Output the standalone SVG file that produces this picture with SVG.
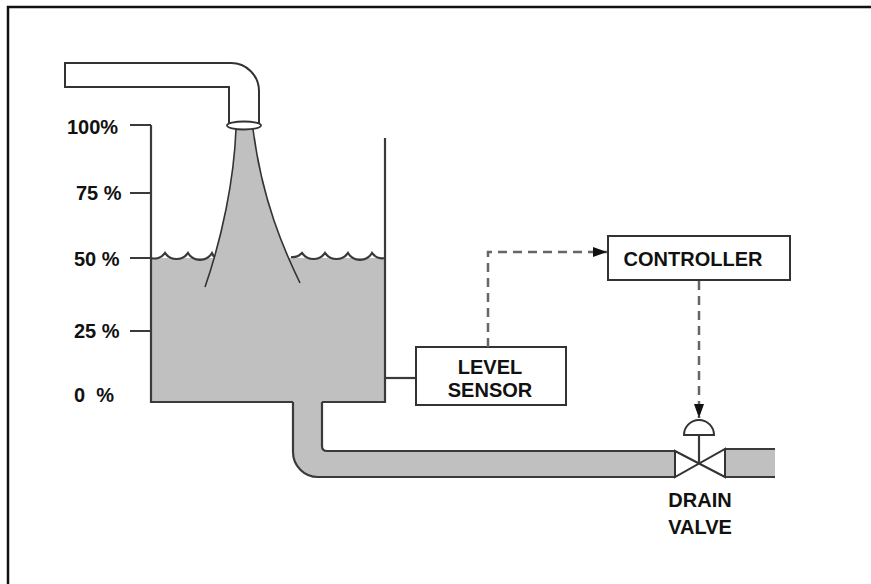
<svg xmlns="http://www.w3.org/2000/svg" width="871" height="584" viewBox="0 0 871 584">
  <style>
    .lbl { font-family: "Liberation Sans", Arial, sans-serif; font-weight: bold; font-size: 20px; fill: #111; }
    .mid { text-anchor: middle; }
    .wall { fill: none; stroke: #3a3a3a; stroke-width: 2.2; }
    .thin { fill: none; stroke: #333; stroke-width: 1.6; }
    .water { fill: #c0c0c0; }
    .box { fill: #fff; stroke: #333; stroke-width: 2; }
    .sig { fill: none; stroke: #666; stroke-width: 2.5; stroke-dasharray: 9 6; }
  </style>
  <defs>
    <marker id="arrow" viewBox="0 0 14 10" refX="14" refY="5" markerWidth="14" markerHeight="10" markerUnits="userSpaceOnUse" orient="auto">
      <path d="M0,0 L14,5 L0,10 Z" fill="#111"/>
    </marker>
  </defs>

  <rect width="871" height="584" fill="#fff"/>

  <!-- frame (top and left edges) -->
  <path d="M8,584 L8,7 L871,7" fill="none" stroke="#111" stroke-width="2.5"/>

  <!-- tank with water -->
  <g id="tank">
    <rect x="151" y="258" width="234" height="144" class="water"/>
    <path d="M151,125 L151,402 L293,402 M322,402 L385,402 L385,138" class="wall"/>
    <!-- water surface -->
    <path d="M151,258 A13,13 0 0 0 165,253 A14,14 0 0 0 188,253 A14,14 0 0 0 212,253 L214,257" class="wall"/>
    <path d="M291,257 A13,13 0 0 0 302,253 A14,14 0 0 0 325,253 A14,14 0 0 0 348,253 A14,14 0 0 0 372,253 A13,13 0 0 0 385,258" class="wall"/>
  </g>

  <!-- inlet pipe, nozzle and falling stream -->
  <g id="inlet">
    <path d="M65,63 L231,63 A28,28 0 0 1 259,91 L259,123 L229,123 L229,87 L65,87 Z" fill="#fff" stroke="#333" stroke-width="2"/>
    <path d="M236,129 C234,180 222,238 205,287 L300,283 C284,250 262,200 253,129 Z" class="water"/>
    <path d="M236,129 C234,180 222,238 205,287" class="thin"/>
    <path d="M253,129 C262,200 284,250 300,283" class="thin"/>
    <ellipse cx="244" cy="125.5" rx="17" ry="4" fill="#fff" stroke="#333" stroke-width="1.8"/>
  </g>

  <!-- level scale -->
  <g id="scale">
    <path d="M130,125 L151,125 M130,193 L151,193 M130,258 L151,258 M130,331 L151,331" class="wall"/>
    <text class="lbl" x="67" y="134">100%</text>
    <text class="lbl" x="76" y="200">75 %</text>
    <text class="lbl" x="74" y="266">50 %</text>
    <text class="lbl" x="74" y="338">25 %</text>
    <text class="lbl" x="74" y="402" style="white-space:pre">0  %</text>
  </g>

  <!-- drain pipe -->
  <g id="drain-pipe">
    <path d="M293,400 L322,400 L322,446 Q322,451 327,451 L675,451 L675,477 L318,477 A25,25 0 0 1 293,452 Z" class="water"/>
    <path d="M293,402 L293,452 A25,25 0 0 0 318,477 L675,477" class="wall"/>
    <path d="M322,402 L322,446 Q322,451 327,451 L675,451" class="wall"/>
    <rect x="725" y="449" width="50" height="28" class="water"/>
    <path d="M775,449 L725,449 M725,477 L775,477" class="wall"/>
  </g>

  <!-- drain valve -->
  <g id="drain-valve">
    <path d="M675,451 L725,477 L725,449 L675,477 Z" fill="#fff" stroke="#333" stroke-width="2" stroke-linejoin="miter"/>
    <path d="M699,435 L699,463" class="wall"/>
    <path d="M684,435 A15,15 0 0 1 714,435 Z" fill="#fff" stroke="#333" stroke-width="2"/>
    <text class="lbl mid" x="700" y="507">DRAIN</text>
    <text class="lbl mid" x="700" y="534">VALVE</text>
  </g>

  <!-- level sensor -->
  <g id="level-sensor">
    <path d="M385,378 L416,378" class="wall"/>
    <rect x="416" y="347" width="150" height="58" class="box"/>
    <text class="lbl mid" x="490" y="374">LEVEL</text>
    <text class="lbl mid" x="490" y="397">SENSOR</text>
  </g>

  <!-- controller -->
  <g id="controller">
    <rect x="608" y="236" width="182" height="44" class="box"/>
    <text class="lbl mid" x="693" y="266">CONTROLLER</text>
  </g>

  <!-- signal lines -->
  <g id="connectors">
    <path d="M488,347 L488,252 L607,252" class="sig" marker-end="url(#arrow)"/>
    <path d="M699,281 L699,418" class="sig" marker-end="url(#arrow)"/>
  </g>
</svg>
